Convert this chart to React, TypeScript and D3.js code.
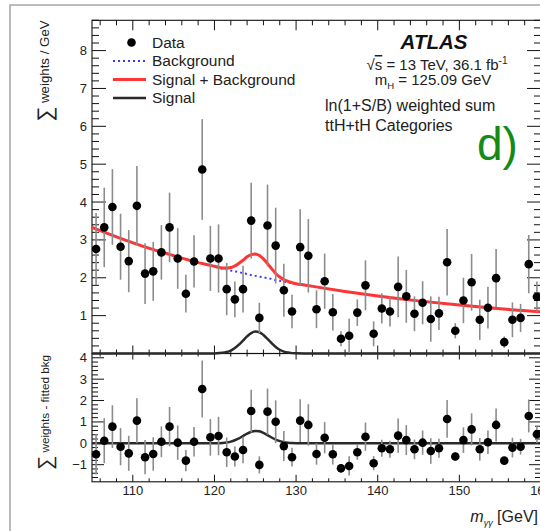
import React from 'react';
import * as d3 from 'd3';

// Diphoton invariant mass bins (bin centres, GeV)
const binCenters = [
  105.5, 106.5, 107.5, 108.5, 109.5, 110.5, 111.5, 112.5, 113.5, 114.5,
  115.5, 116.5, 117.5, 118.5, 119.5, 120.5, 121.5, 122.5, 123.5, 124.5,
  125.5, 126.5, 127.5, 128.5, 129.5, 130.5, 131.5, 132.5, 133.5, 134.5,
  135.5, 136.5, 137.5, 138.5, 139.5, 140.5, 141.5, 142.5, 143.5, 144.5,
  145.5, 146.5, 147.5, 148.5, 149.5, 150.5, 151.5, 152.5, 153.5, 154.5,
  155.5, 156.5, 157.5, 158.5, 159.5,
];

// Weighted data per GeV
const dataValues = [
  2.76, 3.33, 3.87, 2.82, 2.44, 3.90, 2.11, 2.17, 2.67, 3.33,
  2.51, 1.58, 2.43, 4.86, 2.51, 2.51, 1.70, 1.43, 1.70, 3.51,
  0.94, 3.38, 2.85, 1.67, 1.11, 2.81, 2.58, 1.17, 1.91, 1.09,
  0.39, 0.47, 1.08, 1.80, 0.52, 1.19, 1.11, 1.76, 1.51, 1.05,
  1.34, 0.91, 1.06, 2.41, 0.60, 1.40, 1.88, 0.89, 1.21, 1.99,
  0.30, 0.89, 0.94, 2.36, 1.50,
];

// Statistical uncertainty per bin
const dataErrors = [
  0.95, 1.05, 1.00, 0.87, 0.82, 1.05, 0.80, 0.78, 0.72, 0.92,
  0.80, 0.50, 0.69, 1.33, 0.86, 0.90, 0.69, 0.47, 0.62, 1.00,
  0.40, 1.08, 1.00, 0.70, 0.44, 1.00, 0.97, 0.50, 0.73, 0.48,
  0.20, 0.45, 0.35, 0.66, 0.33, 0.40, 0.40, 0.80, 0.70, 0.46,
  0.57, 0.60, 0.44, 0.88, 0.20, 0.60, 0.75, 0.53, 0.55, 0.77,
  0.15, 0.46, 0.37, 0.77, 0.40,
];

// Data minus fitted background
const residualValues = [
  -0.51, 0.12, 0.78, -0.16, -0.47, 1.06, -0.65, -0.50, 0.07, 0.78,
  0.03, -0.81, 0.07, 2.54, 0.28, 0.34, -0.42, -0.62, -0.31, 1.51,
  -1.01, 1.48, 1.01, -0.13, -0.65, 1.06, 0.86, -0.50, 0.26, -0.51,
  -1.17, -1.06, -0.42, 0.31, -0.93, -0.23, -0.28, 0.36, 0.15, -0.28,
  0.03, -0.36, -0.23, 1.14, -0.62, 0.15, 0.65, -0.28, 0.05, 0.86,
  -0.81, -0.20, -0.16, 1.28, 0.42,
];

// Fit curves sampled along the mass axis
const curveMass = [
  105, 108, 111, 114, 117, 119, 120, 121, 121.5, 122, 122.5, 123, 123.5,
  124, 124.5, 125, 125.5, 126, 126.5, 127, 127.5, 128, 128.5, 129, 129.5,
  130, 131, 133, 136, 140, 145, 150, 155, 160,
];
const bkgCurve = [
  3.33, 3.08, 2.85, 2.65, 2.46, 2.35, 2.30, 2.24, 2.22, 2.19, 2.17, 2.15, 2.12,
  2.10, 2.07, 2.05, 2.03, 2.01, 1.99, 1.97, 1.94, 1.92, 1.90, 1.88, 1.86,
  1.84, 1.81, 1.74, 1.64, 1.52, 1.39, 1.28, 1.18, 1.10,
];
const sigCurve = [
  0, 0, 0, 0, 0, 0, 0.003, 0.017, 0.040, 0.079, 0.144, 0.234, 0.343,
  0.453, 0.540, 0.579, 0.560, 0.488, 0.384, 0.272, 0.173, 0.100, 0.051, 0.024, 0.010,
  0.004, 0, 0, 0, 0, 0, 0, 0, 0,
];

const xTickValues = [110, 120, 130, 140, 150, 160];
const yMainTickValues = [1, 2, 3, 4, 5, 6, 7, 8];
const yLowerTickValues = [-1, 0, 1, 2, 3, 4];

const FONT = '"Liberation Sans", Arial, Helvetica, sans-serif';

const W = 540;
const H = 531;
const LEFT = 92;
const RIGHT = 541;
const TOP = 20.3;
const SPLIT = 353.5;
const BOTTOM = 481.8;

const isInt = (v: number) => Math.abs(v - Math.round(v)) < 1e-6;

export default function App() {
  const x = d3.scaleLinear().domain([105, 160]).range([LEFT, RIGHT]);
  const yMain = d3.scaleLinear().domain([0, 8.8]).range([SPLIT, TOP]);
  const yLow = d3.scaleLinear().domain([-1.8, 4.2]).range([BOTTOM, SPLIT]);

  const pts = curveMass.map((m, i) => ({ m, b: bkgCurve[i], s: sigCurve[i] }));

  const lineMain = (acc: (d: any) => number) =>
    d3
      .line<any>()
      .x((d) => x(d.m))
      .y((d) => yMain(acc(d)))
      .curve(d3.curveMonotoneX)(pts) as string;
  const lineLow = d3
    .line<any>()
    .x((d) => x(d.m))
    .y((d) => yLow(d.s))
    .curve(d3.curveMonotoneX)(pts) as string;

  const bkgPath = lineMain((d) => d.b);
  const sbPath = lineMain((d) => d.b + d.s);
  const sigPath = lineMain((d) => d.s);

  const xMinor = d3.range(106, 160.01, 2);
  const yMainMinor = d3.range(0.2, 8.81, 0.2);
  const yLowMinor = d3.range(-1.6, 4.21, 0.2);

  const tickStroke = '#111';

  const ticks: React.ReactNode[] = [];
  xMinor.forEach((v, i) => {
    const major = Math.round(v) % 10 === 0;
    const px = x(v);
    ticks.push(<line key={`mt${i}`} x1={px} x2={px} y1={TOP} y2={TOP + (major ? 10 : 5)} />);
    ticks.push(<line key={`mb${i}`} x1={px} x2={px} y1={SPLIT} y2={SPLIT - (major ? 8 : 4)} />);
    ticks.push(<line key={`lt${i}`} x1={px} x2={px} y1={SPLIT} y2={SPLIT + (major ? 6 : 3)} />);
    ticks.push(<line key={`lb${i}`} x1={px} x2={px} y1={BOTTOM} y2={BOTTOM - (major ? 7 : 3.5)} />);
  });
  yMainMinor.forEach((v, i) => {
    const major = isInt(v);
    const py = yMain(v);
    ticks.push(<line key={`ml${i}`} x1={LEFT} x2={LEFT + (major ? 14 : 7)} y1={py} y2={py} />);
    ticks.push(<line key={`mr${i}`} x1={RIGHT} x2={RIGHT - (major ? 14 : 7)} y1={py} y2={py} />);
  });
  yLowMinor.forEach((v, i) => {
    const major = isInt(v);
    const py = yLow(v);
    ticks.push(<line key={`ll${i}`} x1={LEFT} x2={LEFT + (major ? 12 : 6)} y1={py} y2={py} />);
    ticks.push(<line key={`lr${i}`} x1={RIGHT} x2={RIGHT - (major ? 12 : 6)} y1={py} y2={py} />);
  });

  const errStroke = '#8c8c8c';

  return (
    <svg
      width={W}
      height={H}
      viewBox={`0 0 ${W} ${H}`}
      style={{ position: 'absolute', left: 0, top: 0, background: '#fff' }}
      fontFamily={FONT}
    >
      <rect x={0} y={0} width={W} height={H} fill="#fff" />
      {/* outer canvas frame */}
      <path d={`M10,${H} L10,5 L${W},5`} fill="none" stroke="#a8a8a8" strokeWidth={1.6} />

      {/* panel frames */}
      <rect x={LEFT} y={TOP} width={RIGHT - LEFT} height={SPLIT - TOP} fill="none" stroke="#111" strokeWidth={1.1} />
      <rect x={LEFT} y={SPLIT} width={RIGHT - LEFT} height={BOTTOM - SPLIT} fill="none" stroke="#111" strokeWidth={1.1} />
      <g stroke={tickStroke} strokeWidth={1}>{ticks}</g>

      {/* y tick labels */}
      <g fontSize={13} fill="#222" textAnchor="end">
        {yMainTickValues.map((v) => (
          <text key={`ym${v}`} x={87} y={yMain(v) + 4.5}>{v}</text>
        ))}
        {yLowerTickValues.map((v) => (
          <text key={`yl${v}`} x={87} y={yLow(v) + 4.5}>{v < 0 ? `\u2212${-v}` : v}</text>
        ))}
      </g>
      {/* x tick labels */}
      <g fontSize={13} fill="#222" textAnchor="middle">
        {xTickValues.map((v) => (
          <text key={`xt${v}`} x={x(v)} y={494.5}>{v}</text>
        ))}
      </g>

      {/* axis titles */}
      <text transform={`translate(49,${TOP}) rotate(-90)`} textAnchor="end" fill="#222" fontSize={13.3}>
        <tspan fontSize={21} dy={3}>∑</tspan>
        <tspan dy={-3}> weights / GeV</tspan>
      </text>
      <text transform={`translate(49,${SPLIT + 1.5}) rotate(-90)`} textAnchor="end" fill="#222" fontSize={11.7}>
        <tspan fontSize={20} dy={3}>∑</tspan>
        <tspan dy={-3}> weights - fitted bkg</tspan>
      </text>
      <text x={538} y={522} textAnchor="end" fill="#222" fontSize={16}>
        <tspan fontStyle="italic">m</tspan>
        <tspan fontSize={9} dy={4} fontStyle="italic">γγ</tspan>
        <tspan dy={-4}> [GeV]</tspan>
      </text>

      {/* main panel curves */}
      <path d={bkgPath} fill="none" stroke="#3a3aff" strokeWidth={2} strokeDasharray="2 3" />
      <path d={sbPath} fill="none" stroke="#ff3535" strokeWidth={3} />
      <path d={sigPath} fill="none" stroke="#2a2a2a" strokeWidth={2.5} />

      {/* lower panel signal */}
      <path d={lineLow} fill="none" stroke="#2a2a2a" strokeWidth={2.5} />

      {/* data: main panel */}
      <g>
        {binCenters.map((m, i) => (
          <line
            key={`em${i}`}
            x1={x(m)}
            x2={x(m)}
            y1={yMain(Math.max(0, dataValues[i] - dataErrors[i]))}
            y2={yMain(dataValues[i] + dataErrors[i])}
            stroke={errStroke}
            strokeWidth={1.6}
          />
        ))}
        {binCenters.map((m, i) => (
          <circle key={`pm${i}`} cx={x(m)} cy={yMain(dataValues[i])} r={4.3} fill="#000" />
        ))}
      </g>

      {/* data: lower panel */}
      <g>
        {binCenters.map((m, i) => (
          <line
            key={`el${i}`}
            x1={x(m)}
            x2={x(m)}
            y1={yLow(Math.max(-1.8, residualValues[i] - dataErrors[i]))}
            y2={yLow(residualValues[i] + dataErrors[i])}
            stroke={errStroke}
            strokeWidth={1.6}
          />
        ))}
        {binCenters.map((m, i) => (
          <circle key={`pl${i}`} cx={x(m)} cy={yLow(residualValues[i])} r={4.3} fill="#000" />
        ))}
      </g>

      {/* legend */}
      <g fontSize={15.5} fill="#222">
        <circle cx={131.5} cy={42.5} r={4.3} fill="#000" />
        <text x={152} y={47.5}>Data</text>
        <line x1={113} x2={146} y1={61} y2={61} stroke="#3a3aff" strokeWidth={2} strokeDasharray="2 3" />
        <text x={152} y={66}>Background</text>
        <line x1={113} x2={146} y1={79.5} y2={79.5} stroke="#ff3535" strokeWidth={3} />
        <text x={152} y={84.5}>Signal + Background</text>
        <line x1={113} x2={146} y1={98} y2={98} stroke="#2a2a2a" strokeWidth={2.5} />
        <text x={152} y={103}>Signal</text>
      </g>

      {/* labels */}
      <text x={434} y={49} textAnchor="middle" fontSize={20.5} fontWeight="bold" fontStyle="italic" fill="#111">ATLAS</text>
      <text x={437} y={70} textAnchor="middle" fontSize={15} fill="#222">
        <tspan>√</tspan>
        <tspan style={{ textDecoration: 'overline' }}>s</tspan>
        <tspan> = 13 TeV, 36.1 fb</tspan>
        <tspan fontSize={10} dy={-6}>-1</tspan>
      </text>
      <text x={433} y={85} textAnchor="middle" fontSize={15} fill="#222">
        <tspan>m</tspan>
        <tspan fontSize={9.5} dy={4}>H</tspan>
        <tspan dy={-4}> = 125.09 GeV</tspan>
      </text>
      <text x={325} y={111} fontSize={16} fill="#222">ln(1+S/B) weighted sum</text>
      <text x={325} y={131} fontSize={16} fill="#222">ttH+tH Categories</text>
      <text x={477} y={160} fontSize={46} fill="#168a16">d)</text>
    </svg>
  );
}
